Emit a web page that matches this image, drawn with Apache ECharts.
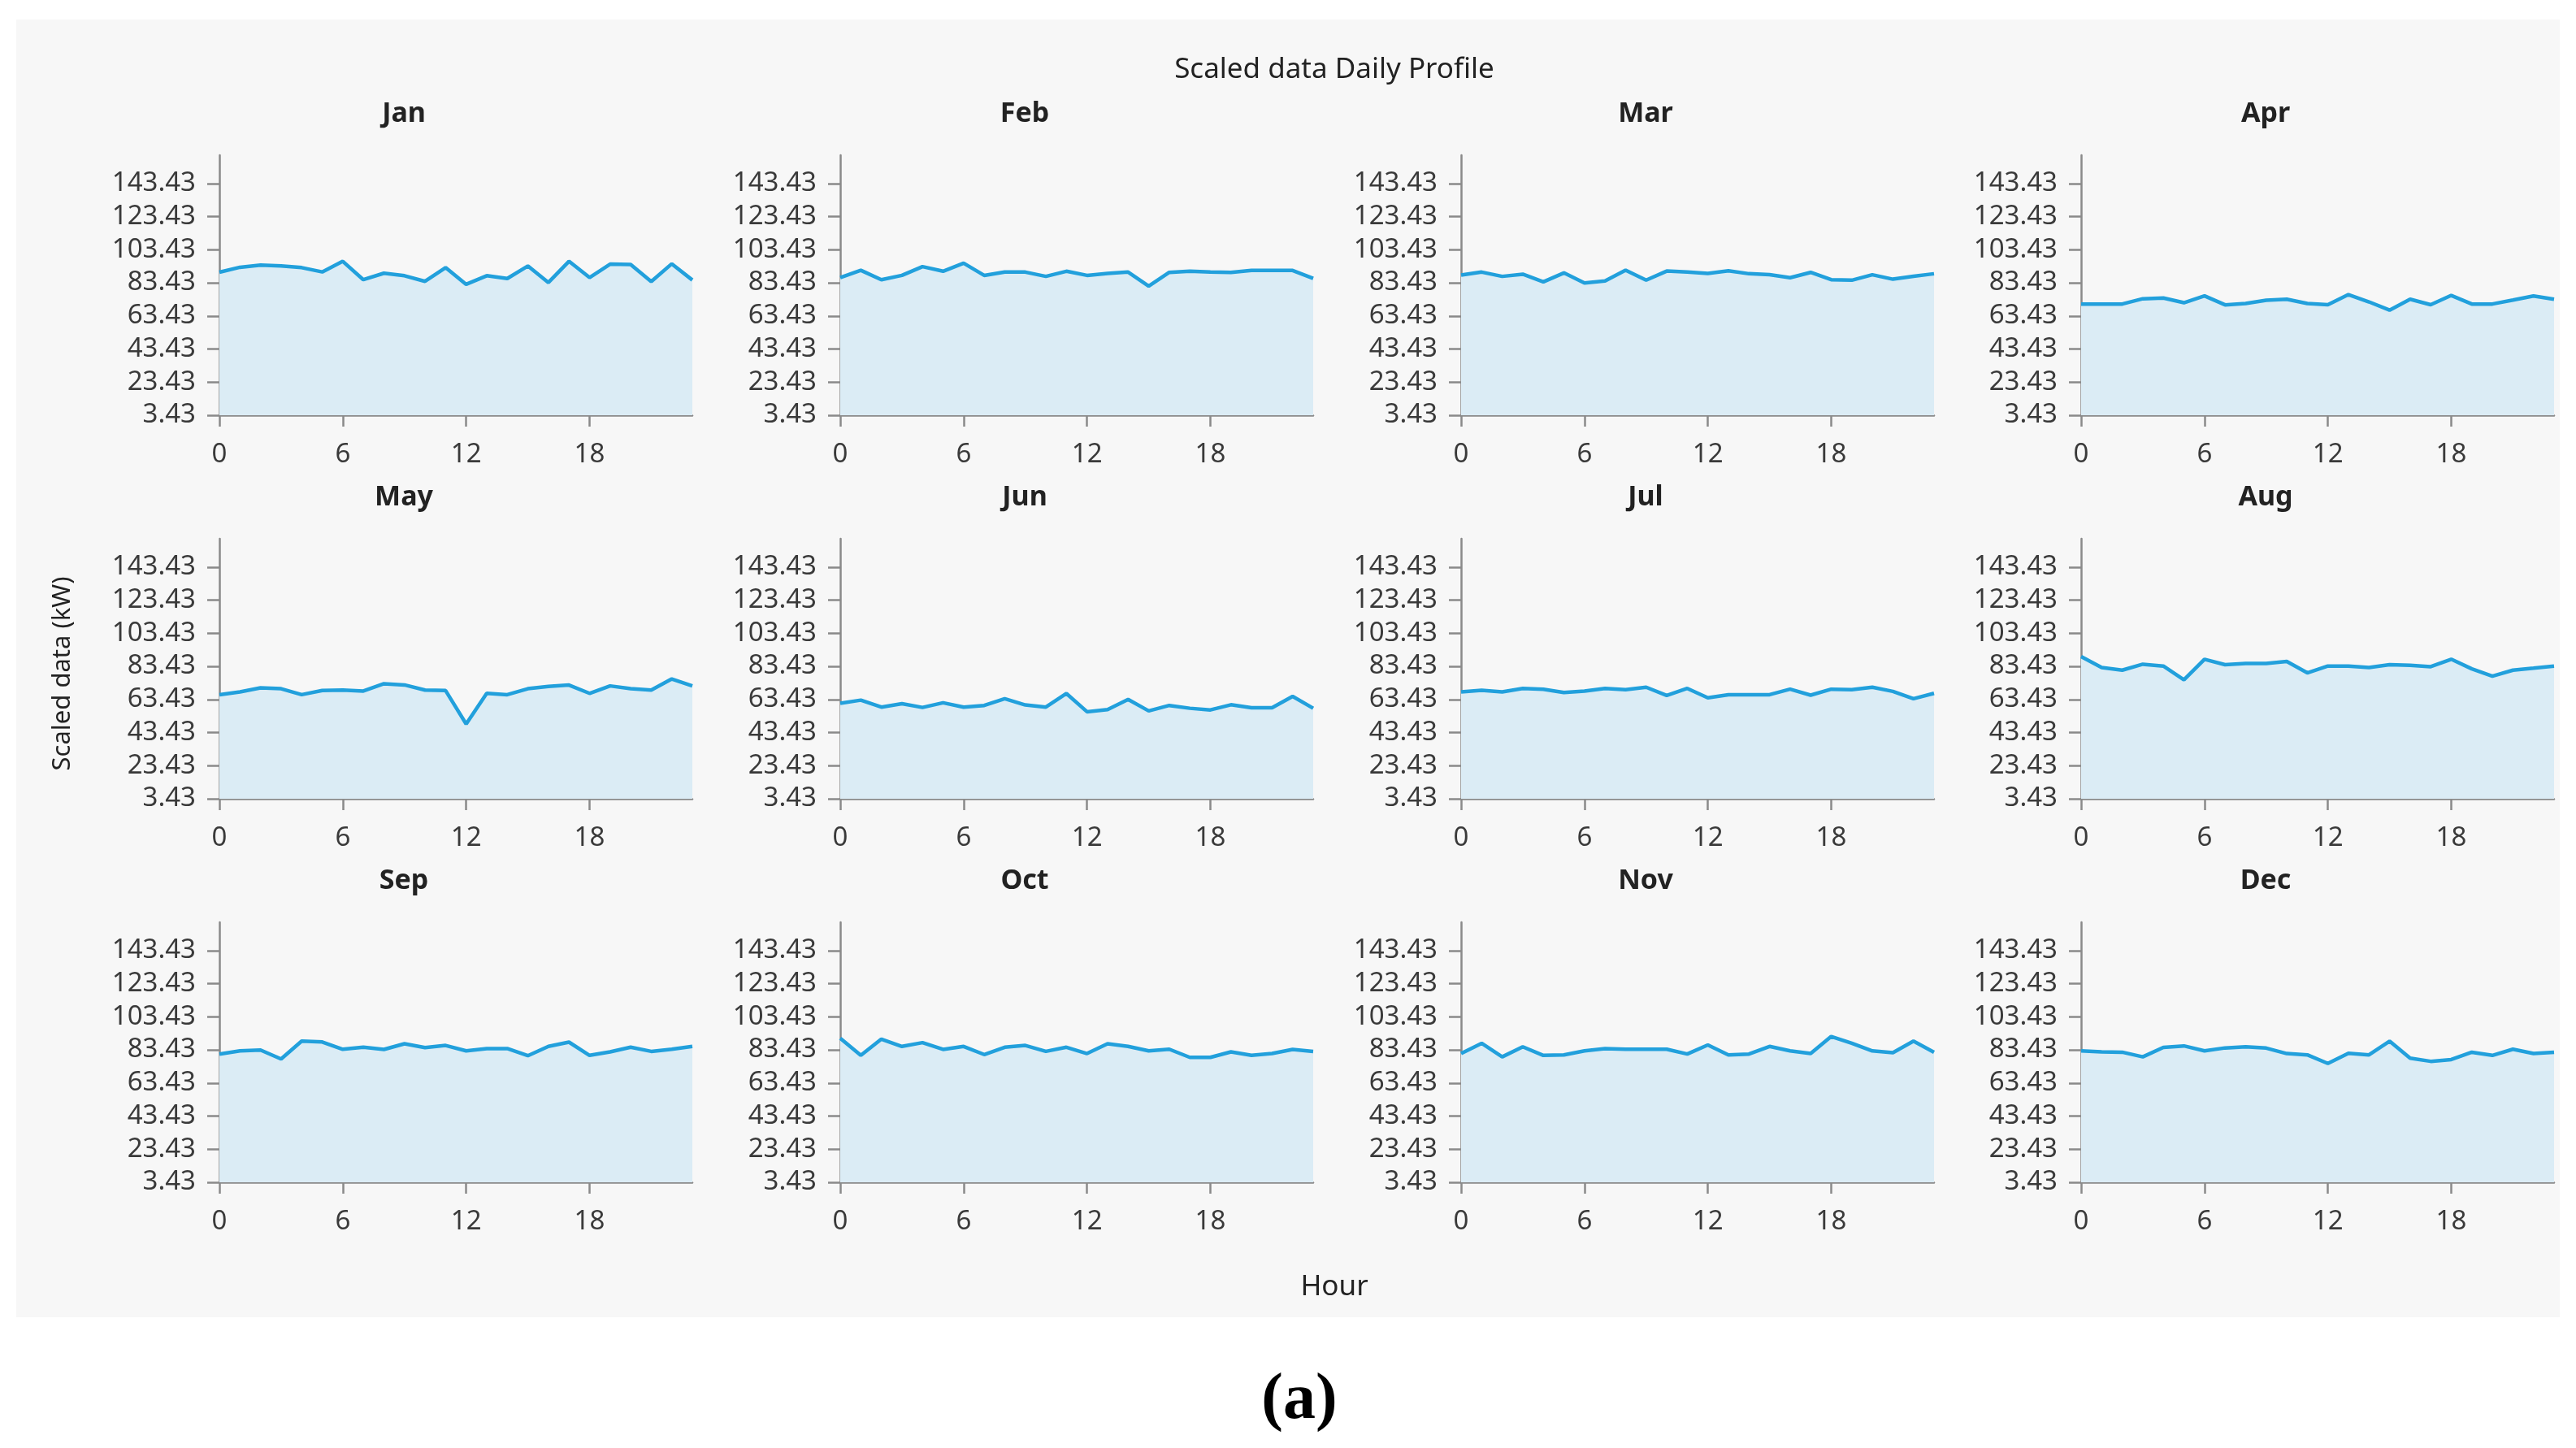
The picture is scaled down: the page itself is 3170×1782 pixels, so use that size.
<!DOCTYPE html>
<html>
<head>
<meta charset="utf-8">
<script src="https://cdn.jsdelivr.net/npm/echarts@6/dist/echarts.min.js"></script>
<style>
html,body{margin:0;padding:0;background:#ffffff;}
#chart{width:3170px;height:1782px;}
</style>
</head>
<body>
<div id="chart"></div>
<script>
const hours = [0,1,2,3,4,5,6,7,8,9,10,11,12,13,14,15,16,17,18,19,20,21,22,23];
const monthNames = ['Jan','Feb','Mar','Apr','May','Jun','Jul','Aug','Sep','Oct','Nov','Dec'];
const yTickValues = [3.43, 23.43, 43.43, 63.43, 83.43, 103.43, 123.43, 143.43];
const xTickValues = [0, 6, 12, 18];

const jan = [89.8, 92.8, 94.1, 93.6, 92.6, 90.0, 96.4, 85.3, 89.2, 87.7, 84.3, 92.6, 82.5, 87.7, 86.0, 93.6, 83.6, 96.4, 86.6, 94.7, 94.5, 84.2, 94.9, 85.1];
const feb = [86.6, 91.0, 85.3, 87.9, 93.2, 90.4, 95.3, 87.9, 89.9, 89.9, 87.3, 90.4, 87.9, 89.1, 89.9, 81.4, 89.7, 90.4, 89.9, 89.7, 90.9, 90.9, 90.9, 86.1];
const mar = [88.1, 89.9, 87.3, 88.6, 84.0, 89.4, 83.3, 84.5, 91.0, 85.0, 90.5, 89.9, 89.1, 90.7, 88.9, 88.3, 86.5, 89.7, 85.3, 85.0, 88.3, 85.6, 87.4, 88.9];
const apr = [70.6, 70.6, 70.6, 73.8, 74.2, 71.4, 75.5, 70.1, 70.9, 72.9, 73.5, 70.9, 70.2, 76.3, 71.9, 66.9, 73.5, 70.2, 75.8, 70.6, 70.6, 73.0, 75.5, 73.5];
const may = [66.3, 68.0, 70.4, 69.9, 66.3, 68.8, 69.1, 68.5, 72.9, 72.2, 69.1, 68.8, 48.6, 67.1, 66.3, 69.9, 71.3, 72.1, 67.1, 71.6, 69.9, 69.1, 75.8, 71.6];
const jun = [61.1, 63.0, 58.8, 60.9, 58.6, 61.4, 58.8, 59.8, 63.9, 60.1, 58.8, 67.0, 56.0, 57.3, 63.4, 56.5, 59.8, 58.1, 57.1, 60.2, 58.4, 58.4, 65.3, 58.1];
const jul = [68.0, 69.0, 68.0, 70.1, 69.6, 67.6, 68.5, 70.1, 69.3, 70.8, 65.8, 70.1, 64.4, 66.3, 66.3, 66.3, 69.6, 66.0, 69.6, 69.3, 70.8, 68.3, 63.9, 67.1];
const aug = [89.3, 82.7, 81.1, 84.7, 83.6, 75.3, 87.7, 84.4, 85.2, 85.2, 86.4, 79.5, 83.6, 83.6, 82.7, 84.4, 84.0, 83.2, 87.7, 81.9, 77.5, 81.1, 82.3, 83.6];
const sep = [80.9, 82.8, 83.3, 77.9, 88.7, 88.2, 83.8, 85.0, 83.7, 87.1, 84.8, 86.1, 82.8, 84.2, 84.2, 79.9, 85.5, 88.1, 80.1, 82.2, 85.0, 82.5, 83.8, 85.5];
const oct = [90.4, 80.1, 89.9, 85.5, 87.8, 83.7, 85.5, 80.6, 85.0, 86.1, 82.5, 85.0, 81.2, 87.1, 85.5, 82.8, 83.8, 78.9, 78.9, 82.2, 80.1, 81.2, 83.7, 82.5];
const nov = [81.2, 87.4, 79.2, 85.3, 80.1, 80.4, 82.8, 84.2, 83.8, 83.8, 83.8, 80.9, 86.4, 80.4, 80.9, 85.5, 82.8, 81.2, 91.5, 87.4, 82.8, 81.7, 88.7, 82.0];
const dec = [82.8, 82.2, 82.0, 79.2, 84.9, 85.8, 82.8, 84.6, 85.3, 84.5, 81.2, 80.4, 75.2, 81.4, 80.4, 88.7, 78.4, 76.5, 77.6, 82.0, 80.1, 83.8, 81.2, 82.0];

const monthData = [jan, feb, mar, apr, may, jun, jul, aug, sep, oct, nov, dec];

const FONT = 'Noto Sans';
const colLefts = [270, 1034, 1798, 2561];
const rowTops = [191, 663, 1135];
const gridW = 582, gridH = 320;
const axisColor = '#8a8a8a';

const grids = [], xAxes = [], yAxes = [], series = [], titles = [];
monthData.forEach((vals, i) => {
  const r = Math.floor(i / 4), c = i % 4;
  grids.push({left: colLefts[c], top: rowTops[r], width: gridW, height: gridH, containLabel: false});
  xAxes.push({
    type: 'value', gridIndex: i, min: 0, max: 23, interval: 6,
    axisLine: {show: true, lineStyle: {color: axisColor, width: 2.5}},
    axisTick: {show: true, length: 14, lineStyle: {color: axisColor, width: 2.5}, customValues: xTickValues},
    axisLabel: {show: true, margin: 32, fontSize: 33, color: '#3a3a3a', fontFamily: FONT, customValues: xTickValues},
    splitLine: {show: false}
  });
  yAxes.push({
    type: 'value', gridIndex: i, min: 3.43, max: 160.5,
    axisLine: {show: true, lineStyle: {color: axisColor, width: 2.5}},
    axisTick: {show: true, length: 15, lineStyle: {color: axisColor, width: 2.5}, customValues: yTickValues},
    axisLabel: {show: true, margin: 29, fontSize: 33, color: '#3a3a3a', fontFamily: FONT,
      customValues: yTickValues, formatter: v => Number(v).toFixed(2)},
    splitLine: {show: false}
  });
  series.push({
    type: 'line', xAxisIndex: i, yAxisIndex: i,
    data: hours.map((h, k) => [h, vals[k]]),
    showSymbol: false, symbol: 'none',
    lineStyle: {color: '#22a0dc', width: 4.5},
    areaStyle: {color: '#dbecf5', opacity: 1, origin: 'start'},
    animation: false
  });
  titles.push({text: monthNames[i], x: colLefts[c] + 227, y: rowTops[r] - 51});
});

const chart = echarts.init(document.getElementById('chart'), null, {renderer: 'canvas'});
chart.setOption({
  backgroundColor: '#ffffff',
  animation: false,
  graphic: [
    {type: 'rect', z: -10, shape: {x: 20, y: 24, width: 3130, height: 1597}, style: {fill: '#f7f7f7'}},
    {type: 'text', x: 1642, y: 86, style: {text: 'Scaled data Daily Profile', fontSize: 35, fill: '#222', fontFamily: FONT, align: 'center', verticalAlign: 'middle'}},
    {type: 'text', x: 1642, y: 1584, style: {text: 'Hour', fontSize: 35, fill: '#222', fontFamily: FONT, align: 'center', verticalAlign: 'middle'}},
    {type: 'text', x: 77, y: 829, rotation: Math.PI / 2, style: {text: 'Scaled data (kW)', fontSize: 31, fill: '#222', fontFamily: FONT, align: 'center', verticalAlign: 'middle'}},
    {type: 'text', x: 1599, y: 1724, style: {text: '(a)', fontSize: 80, fontWeight: 'bold', fill: '#000', fontFamily: 'Liberation Serif', align: 'center', verticalAlign: 'middle'}}
  ].concat(titles.map(t => ({type: 'text', x: t.x, y: t.y, style: {text: t.text, fontSize: 34, fontWeight: 'bold', fill: '#222', fontFamily: FONT, align: 'center', verticalAlign: 'middle'}}))),
  grid: grids,
  xAxis: xAxes,
  yAxis: yAxes,
  series: series
});
</script>
</body>
</html>
